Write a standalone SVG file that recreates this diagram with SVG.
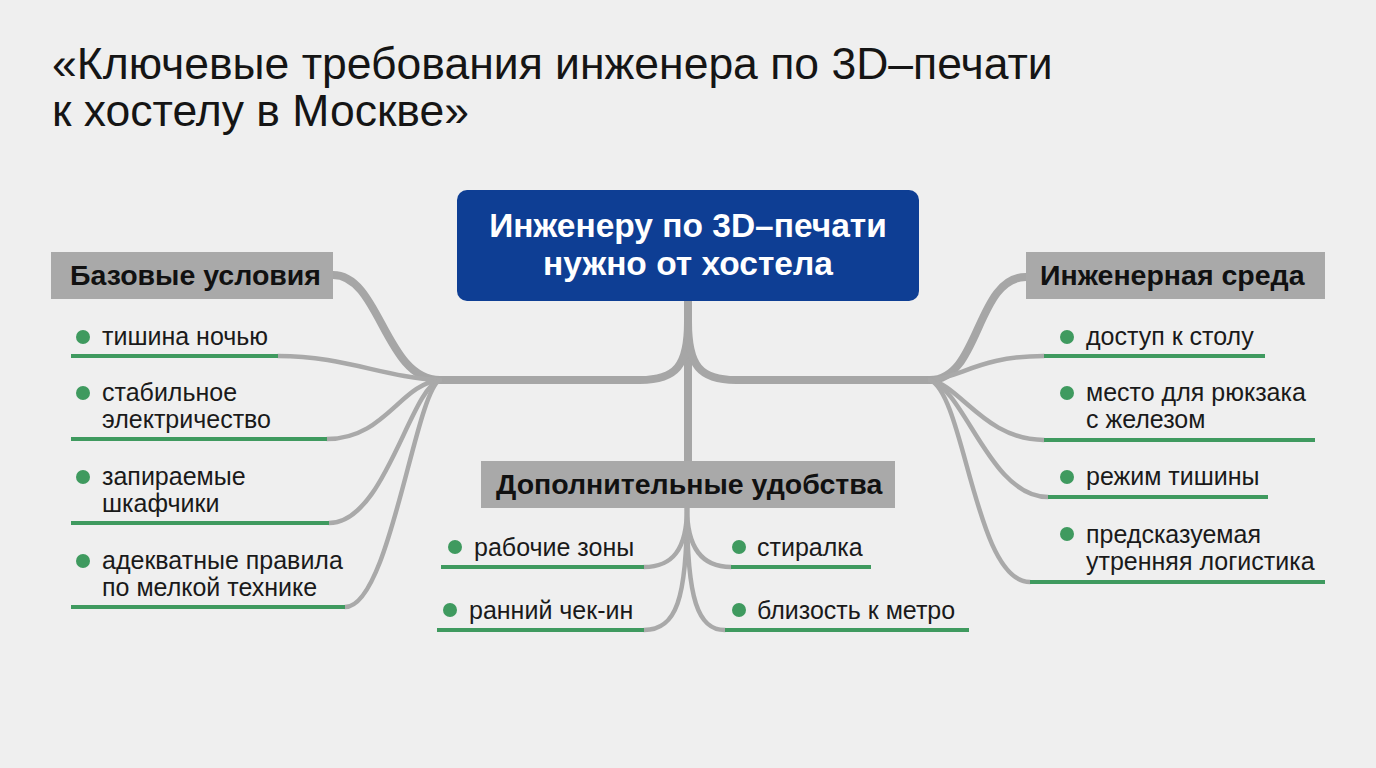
<svg xmlns="http://www.w3.org/2000/svg" width="1376" height="768" viewBox="0 0 1376 768">
<defs>
<style>
.title{font-family:"Liberation Sans",Arial,sans-serif;font-size:44.5px;fill:#151515}
.ctext{font-family:"Liberation Sans",Arial,sans-serif;font-size:33.5px;font-weight:bold;fill:#ffffff}
.htext{font-family:"Liberation Sans",Arial,sans-serif;font-size:28.5px;font-weight:bold;fill:#111111}
.itext{font-family:"Liberation Sans",Arial,sans-serif;font-size:25px;fill:#1a1a1a}
.hbox{fill:#a9a9a9}
.main{fill:none;stroke:#a6a6a6;stroke-width:8;stroke-linecap:round}
.sub{fill:none;stroke:#a9a9a9;stroke-width:4.5;stroke-linecap:round}
.ul{stroke:#3f9a5f;stroke-width:4}
.dot{fill:#3f9a5f}
</style>
</defs>
<rect width="1376" height="768" fill="#efefef"/>
<g id="title">
<text class="title" x="52" y="79">«Ключевые требования инженера по 3D–печати</text>
<text class="title" x="52" y="126">к хостелу в Москве»</text>
</g>
<g id="connectors">
<path class="main" d="M688 301 V462"/>
<path class="main" d="M688 322 C688 366 676 380 640 380 H438"/>
<path class="main" d="M688 322 C688 366 700 380 736 380 H932"/>
<path class="main" d="M333 275 C380 275 385 380 440 380"/>
<path class="main" d="M1026 277 C976 277 980 380 930 380"/>
<path class="sub" d="M278 356 C345 356 385 378 440 380"/>
<path class="sub" d="M327 439 C385 439 400 384 440 380"/>
<path class="sub" d="M329 523 C385 523 410 388 440 380"/>
<path class="sub" d="M345 607 C390 607 415 392 440 380"/>
<path class="sub" d="M1044 356 C980 356 960 378 930 380"/>
<path class="sub" d="M1044 440 C985 440 960 385 930 380"/>
<path class="sub" d="M1048 497 C990 497 965 390 930 380"/>
<path class="sub" d="M1030 582 C975 582 965 395 930 380"/>
<path class="sub" d="M687 508 C687 550 672 567 644 567"/>
<path class="sub" d="M687 508 C687 600 676 630 644 630"/>
<path class="sub" d="M687 508 C687 550 704 567 731 567"/>
<path class="sub" d="M687 508 C687 600 698 630 725 630"/>
</g>
<g id="center">
<rect x="457" y="190" width="462" height="111" rx="10" fill="#0e3e94"/>
<text class="ctext" x="688" y="237" text-anchor="middle">Инженеру по 3D–печати</text>
<text class="ctext" x="688" y="275" text-anchor="middle">нужно от хостела</text>
</g>
<g id="basic">
<rect class="hbox" x="51" y="252" width="282" height="47"/>
<text class="htext" x="70" y="285">Базовые условия</text>
</g>
<g id="eng">
<rect class="hbox" x="1026" y="252" width="299" height="47"/>
<text class="htext" x="1040" y="285">Инженерная среда</text>
</g>
<g id="extra">
<rect class="hbox" x="481" y="461" width="414" height="47"/>
<text class="htext" x="496" y="494">Дополнительные удобства</text>
</g>
<g id="b1"><circle class="dot" cx="83" cy="337" r="7"/><text class="itext" x="102" y="345">тишина ночью</text><line class="ul" x1="71" y1="356" x2="278" y2="356"/></g>
<g id="b2"><circle class="dot" cx="83" cy="393" r="7"/><text class="itext" x="102" y="401">стабильное</text><text class="itext" x="102" y="428">электричество</text><line class="ul" x1="71" y1="439" x2="327" y2="439"/></g>
<g id="b3"><circle class="dot" cx="83" cy="477" r="7"/><text class="itext" x="102" y="485">запираемые</text><text class="itext" x="102" y="512">шкафчики</text><line class="ul" x1="71" y1="523" x2="329" y2="523"/></g>
<g id="b4"><circle class="dot" cx="83" cy="561" r="7"/><text class="itext" x="102" y="569">адекватные правила</text><text class="itext" x="102" y="596">по мелкой технике</text><line class="ul" x1="71" y1="607" x2="345" y2="607"/></g>
<g id="e1"><circle class="dot" cx="1067" cy="337" r="7"/><text class="itext" x="1086" y="345">доступ к столу</text><line class="ul" x1="1044" y1="356" x2="1265" y2="356"/></g>
<g id="e2"><circle class="dot" cx="1067" cy="393" r="7"/><text class="itext" x="1086" y="401">место для рюкзака</text><text class="itext" x="1086" y="428">с железом</text><line class="ul" x1="1044" y1="440" x2="1315" y2="440"/></g>
<g id="e3"><circle class="dot" cx="1067" cy="477" r="7"/><text class="itext" x="1086" y="485">режим тишины</text><line class="ul" x1="1048" y1="497" x2="1268" y2="497"/></g>
<g id="e4"><circle class="dot" cx="1067" cy="534" r="7"/><text class="itext" x="1086" y="543">предсказуемая</text><text class="itext" x="1086" y="570">утренняя логистика</text><line class="ul" x1="1030" y1="582" x2="1325" y2="582"/></g>
<g id="x1"><circle class="dot" cx="455" cy="547" r="7"/><text class="itext" x="474" y="556">рабочие зоны</text><line class="ul" x1="441" y1="567" x2="644" y2="567"/></g>
<g id="x2"><circle class="dot" cx="450" cy="610" r="7"/><text class="itext" x="469" y="619">ранний чек-ин</text><line class="ul" x1="437" y1="630" x2="644" y2="630"/></g>
<g id="x3"><circle class="dot" cx="739" cy="547" r="7"/><text class="itext" x="757" y="556">стиралка</text><line class="ul" x1="731" y1="567" x2="871" y2="567"/></g>
<g id="x4"><circle class="dot" cx="739" cy="610" r="7"/><text class="itext" x="757" y="619">близость к метро</text><line class="ul" x1="725" y1="630" x2="969" y2="630"/></g>
</svg>
